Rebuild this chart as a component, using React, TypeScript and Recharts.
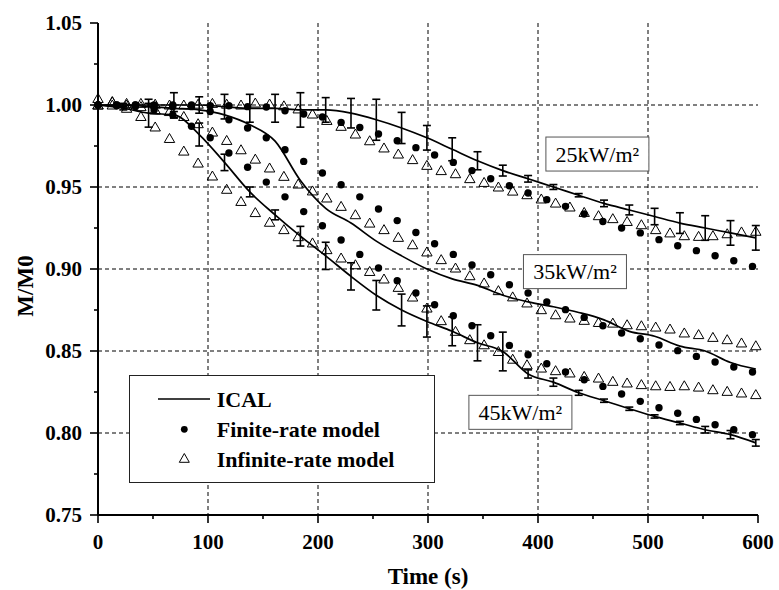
import React from "react";
import {
  ComposedChart,
  Line,
  Scatter,
  XAxis,
  YAxis,
  CartesianGrid,
  ErrorBar,
  ReferenceDot,
  Legend,
  Label,
} from "recharts";

// ICAL measurements (solid line + error bars), one reading every 23 s
const icalTime = [
  0, 23, 46, 69, 92, 115, 138, 161, 184, 207, 230, 253, 276, 299, 322, 345,
  368, 391, 414, 437, 460, 483, 506, 529, 552, 575, 598,
];
const ical25 = [
  1.0, 1.0, 1.0, 1.0, 1.0, 0.999, 0.998, 0.998, 0.997, 0.997, 0.995, 0.991,
  0.986, 0.98, 0.973, 0.966, 0.96, 0.955, 0.95, 0.945, 0.94, 0.936, 0.932,
  0.928, 0.925, 0.922, 0.919,
];
const ical25Err = [
  0, 0.001, 0.001, 0.0075, 0.005, 0.0075, 0.0085, 0.0085, 0.0105, 0.0075,
  0.009, 0.0125, 0.0095, 0.0075, 0.007, 0.0055, 0.0033, 0.002, 0.0015, 0.001,
  0.002, 0.003, 0.005, 0.0063, 0.0075, 0.0075, 0.0075,
];
const ical35 = [
  1.0, 1.0, 0.999, 0.998, 0.997, 0.994, 0.988, 0.978, 0.954, 0.937, 0.928,
  0.917, 0.908, 0.9, 0.894, 0.89, 0.884, 0.88, 0.877, 0.8735, 0.869, 0.862,
  0.859, 0.853, 0.85, 0.843, 0.839,
];
const ical45 = [
  1.0, 0.998, 0.995, 0.994, 0.982, 0.965, 0.947, 0.933, 0.92, 0.908, 0.8955,
  0.884, 0.875, 0.868, 0.862, 0.855, 0.8497, 0.836, 0.831, 0.8245, 0.8197,
  0.8148, 0.8101, 0.8061, 0.802, 0.799, 0.794,
];
const ical45Err = [
  0, 0.001, 0.0085, 0.002, 0.007, 0.005, 0.003, 0.003, 0.006, 0.0083, 0.0083,
  0.009, 0.0097, 0.0095, 0.0088, 0.011, 0.0118, 0.0025, 0.0025, 0.0015, 0.001,
  0.001, 0.001, 0.001, 0.002, 0.0025, 0.002,
];

// Finite-rate model (filled dots), every 17 s
const finiteTime = [
  0, 17, 34, 51, 68, 85, 102, 119, 136, 153, 170, 187, 204, 221, 238, 255, 272,
  289, 306, 323, 340, 357, 374, 391, 408, 425, 442, 459, 476, 493, 510, 527,
  544, 561, 578, 595,
];
const finite25 = [
  1.0, 1.0, 1.0, 1.0, 1.0, 1.0, 0.9995, 0.9995, 0.999, 0.9988, 0.9965, 0.9945,
  0.9927, 0.9894, 0.9863, 0.9823, 0.9782, 0.974, 0.9695, 0.965, 0.96, 0.955,
  0.9508, 0.9463, 0.9423, 0.9382, 0.9335, 0.929, 0.925, 0.922, 0.9179, 0.9142,
  0.9112, 0.9081, 0.905, 0.9016,
];
const finite35 = [
  1.0, 1.0, 1.0, 0.9995, 0.999, 0.999, 0.996, 0.991, 0.986, 0.98, 0.9727,
  0.9656, 0.9585, 0.9514, 0.944, 0.9366, 0.9295, 0.9223, 0.9154, 0.9089,
  0.9024, 0.8965, 0.8904, 0.8854, 0.8799, 0.8752, 0.8705, 0.8654, 0.861,
  0.8575, 0.8537, 0.8502, 0.8467, 0.8433, 0.8402, 0.8372,
];
const finite45 = [
  1.0, 0.9995, 0.999, 0.997, 0.994, 0.987, 0.98, 0.9707, 0.962, 0.953, 0.944,
  0.935, 0.9264, 0.9177, 0.9089, 0.9006, 0.8929, 0.8854, 0.8782, 0.8715,
  0.8654, 0.8593, 0.8534, 0.8477, 0.8422, 0.8372, 0.8325, 0.8284, 0.8238,
  0.8193, 0.8154, 0.812, 0.8083, 0.805, 0.802, 0.799,
];

// Infinite-rate model (open triangles), every 13 s
const infiniteTime = [
  0, 13, 26, 39, 52, 65, 78, 91, 104, 117, 130, 143, 156, 169, 182, 195, 208,
  221, 234, 247, 260, 273, 286, 299, 312, 325, 338, 351, 364, 377, 390, 403,
  416, 429, 442, 455, 468, 481, 494, 507, 520, 533, 546, 559, 572, 585, 598,
];
const infinite25 = [
  1.0, 1.002, 1.001, 1.001, 1.0005, 1.0, 1.0, 1.0005, 1.001, 1.0005, 1.0,
  1.0012, 1.0006, 0.9995, 0.9976, 0.9945, 0.9906, 0.987, 0.9823, 0.9782,
  0.9738, 0.9701, 0.9667, 0.9632, 0.96, 0.9581, 0.9551, 0.9528, 0.95, 0.9475,
  0.9453, 0.9427, 0.9402, 0.9378, 0.9345, 0.9325, 0.9307, 0.929, 0.927, 0.924,
  0.922, 0.9203, 0.9199, 0.9203, 0.9215, 0.9226, 0.923,
];
const infinite35 = [
  1.0, 1.0, 1.0, 0.999, 0.997, 0.996, 0.993, 0.9886, 0.9835, 0.9784, 0.9727,
  0.967, 0.9616, 0.9565, 0.9518, 0.9476, 0.9433, 0.9382, 0.9331, 0.928, 0.924,
  0.9193, 0.9148, 0.9104, 0.9057, 0.9006, 0.8959, 0.8915, 0.8868, 0.883,
  0.8793, 0.8752, 0.8721, 0.8701, 0.8687, 0.8674, 0.867, 0.866, 0.8654,
  0.8646, 0.8634, 0.861, 0.86, 0.8583, 0.8569, 0.8549, 0.8532,
];
const infinite45 = [
  1.004, 1.002, 0.998, 0.993, 0.9866, 0.9796, 0.9719, 0.9646, 0.9567, 0.9486,
  0.9412, 0.9344, 0.9285, 0.924, 0.9197, 0.9159, 0.9118, 0.9067, 0.9026,
  0.8985, 0.8939, 0.8888, 0.8829, 0.8762, 0.8685, 0.862, 0.8569, 0.8538,
  0.8497, 0.845, 0.8416, 0.8396, 0.838, 0.8366, 0.8345, 0.8335, 0.8315,
  0.8305, 0.8295, 0.8288, 0.8284, 0.8288, 0.828, 0.8264, 0.8254, 0.8244,
  0.8234,
];

const xTicks = [0, 50, 100, 150, 200, 250, 300, 350, 400, 450, 500, 550, 600];
const xLabels = [0, 100, 200, 300, 400, 500, 600];
const yTicks = [
  0.75, 0.775, 0.8, 0.825, 0.85, 0.875, 0.9, 0.925, 0.95, 0.975, 1.0, 1.025,
  1.05,
];
const yLabels = [0.75, 0.8, 0.85, 0.9, 0.95, 1.0, 1.05];
const gridX = [100, 200, 300, 400, 500];
const gridY = [0.8, 0.85, 0.9, 0.95, 1.0];

const legendNames = ["ICAL", "Finite-rate model", "Infinite-rate model"];

// heat flux tags, anchored at the box centre in data units
const fluxTags = [
  { text: "25kW/m²", t: 454, v: 0.9701 },
  { text: "35kW/m²", t: 433.6, v: 0.8984 },
  { text: "45kW/m²", t: 384, v: 0.8126 },
];

const font = '"Liberation Serif", "Times New Roman", serif';

const rows = (ts: number[], vs: number[], es?: number[]) =>
  ts.map((t, i) => ({ t, v: vs[i], e: es ? es[i] : 0 }));

const DotShape = (p: any) => <circle cx={p.cx} cy={p.cy} r={3.7} fill="#000" />;

const TriShape = (p: any) => (
  <polygon
    points={`${p.cx},${p.cy - 5} ${p.cx - 5.2},${p.cy + 4} ${p.cx + 5.2},${p.cy + 4}`}
    fill="none"
    stroke="#000"
    strokeWidth={1}
  />
);

const XTick = (props: any) => {
  const { x, y, payload } = props;
  const major = xLabels.includes(payload.value);
  return (
    <g>
      <line x1={x} y1={y} x2={x} y2={y + (major ? 8 : 4)} stroke="#000" strokeWidth={1.6} />
      {major && (
        <text x={x} y={y + 34} textAnchor="middle" fontFamily={font} fontWeight="bold" fontSize={21} fill="#000">
          {payload.value}
        </text>
      )}
    </g>
  );
};

const YTick = (props: any) => {
  const { x, y, payload } = props;
  const major = yLabels.some((v) => Math.abs(v - payload.value) < 1e-6);
  return (
    <g>
      <line x1={x - (major ? 8 : 4)} y1={y} x2={x} y2={y} stroke="#000" strokeWidth={1.6} />
      {major && (
        <text x={x - 16} y={y + 7} textAnchor="end" fontFamily={font} fontWeight="bold" fontSize={21} fill="#000">
          {payload.value.toFixed(2)}
        </text>
      )}
    </g>
  );
};

const FluxBox = ({ cx, cy, text }: { cx: number; cy: number; text: string }) => (
  <g>
    <rect x={cx - 51.5} y={cy - 17} width={103} height={34} fill="#fff" stroke="#555" strokeWidth={1} />
    <text x={cx} y={cy + 7.5} textAnchor="middle" fontFamily={font} fontSize={22} fill="#000">
      {text}
    </text>
  </g>
);

const LegendBox = () => (
  <svg width={307} height={109} style={{ display: "block" }}>
    <rect x={0.5} y={0.5} width={305} height={107} fill="#fff" stroke="#222" strokeWidth={1} />
    <line x1={29} y1={24} x2={81} y2={24} stroke="#000" strokeWidth={1.7} />
    <circle cx={55.3} cy={54.3} r={3.4} fill="#000" />
    <polygon points="55.3,78.5 50.3,87.3 60.3,87.3" fill="none" stroke="#000" strokeWidth={1} />
    {legendNames.map((name, i) => (
      <text key={name} x={87.7} y={31.7 + i * 30.3} fontFamily={font} fontWeight="bold" fontSize={22} fill="#000">
        {name}
      </text>
    ))}
  </svg>
);

export default function App() {
  return (
    <div style={{ position: "absolute", left: 0, top: 0 }}>
      <ComposedChart width={779} height={590} margin={{ top: 23, right: 21, bottom: 0, left: 0 }}>
        <CartesianGrid
          horizontalValues={gridY}
          verticalValues={gridX}
          stroke="#000"
          strokeDasharray="4 3"
          strokeWidth={1}
        />
        <XAxis
          type="number"
          dataKey="t"
          domain={[0, 600]}
          ticks={xTicks}
          interval={0}
          height={75}
          tickSize={0}
          tickMargin={0}
          tickLine={false}
          tick={XTick}
          axisLine={{ stroke: "#000", strokeWidth: 2 }}
        >
          <Label
            content={(p: any) => {
              const vb = p.viewBox;
              return (
                <text x={vb.x + vb.width / 2} y={vb.y + 69} textAnchor="middle" fontFamily={font} fontWeight="bold" fontSize={23} fill="#000">
                  Time (s)
                </text>
              );
            }}
          />
        </XAxis>
        <XAxis xAxisId="top" orientation="top" type="number" domain={[0, 600]} height={0} tick={false} tickLine={false} axisLine={{ stroke: "#000", strokeWidth: 1 }} />
        <YAxis
          type="number"
          domain={[0.75, 1.05]}
          ticks={yTicks}
          interval={0}
          width={98}
          tickSize={0}
          tickMargin={0}
          tickLine={false}
          tick={YTick}
          axisLine={{ stroke: "#000", strokeWidth: 2 }}
        >
          <Label
            content={(p: any) => {
              const vb = p.viewBox;
              const cy = vb.y + vb.height / 2 + 17;
              return (
                <text x={33} y={cy} transform={`rotate(-90 33 ${cy})`} textAnchor="middle" fontFamily={font} fontWeight="bold" fontSize={23} fill="#000">
                  M/M0
                </text>
              );
            }}
          />
        </YAxis>
        <YAxis yAxisId="right" orientation="right" type="number" domain={[0.75, 1.05]} width={0} tick={false} tickLine={false} axisLine={{ stroke: "#000", strokeWidth: 1 }} />

        <Scatter data={rows(infiniteTime, infinite25)} dataKey="v" shape={TriShape} isAnimationActive={false} />
        <Scatter data={rows(infiniteTime, infinite35)} dataKey="v" shape={TriShape} isAnimationActive={false} />
        <Scatter data={rows(infiniteTime, infinite45)} dataKey="v" shape={TriShape} isAnimationActive={false} />
        <Scatter data={rows(finiteTime, finite25)} dataKey="v" shape={DotShape} isAnimationActive={false} />
        <Scatter data={rows(finiteTime, finite35)} dataKey="v" shape={DotShape} isAnimationActive={false} />
        <Scatter data={rows(finiteTime, finite45)} dataKey="v" shape={DotShape} isAnimationActive={false} />

        <Line data={rows(icalTime, ical25, ical25Err)} dataKey="v" type="monotone" stroke="#000" strokeWidth={1.7} dot={false} activeDot={false} isAnimationActive={false}>
          <ErrorBar dataKey="e" direction="y" width={4} stroke="#000" strokeWidth={1.6} />
        </Line>
        <Line data={rows(icalTime, ical35)} dataKey="v" type="monotone" stroke="#000" strokeWidth={1.7} dot={false} activeDot={false} isAnimationActive={false} />
        <Line data={rows(icalTime, ical45, ical45Err)} dataKey="v" type="monotone" stroke="#000" strokeWidth={1.7} dot={false} activeDot={false} isAnimationActive={false}>
          <ErrorBar dataKey="e" direction="y" width={4} stroke="#000" strokeWidth={1.6} />
        </Line>

        {fluxTags.map((f) => (
          <ReferenceDot
            key={f.text}
            x={f.t}
            y={f.v}
            r={0}
            shape={(p: any) => <FluxBox cx={p.cx} cy={p.cy} text={f.text} />}
          />
        ))}

        <Legend
          layout="vertical"
          align="center"
          verticalAlign="middle"
          content={() => <LegendBox />}
          wrapperStyle={{ left: 129, top: 375, width: 307, height: 109 }}
        />
      </ComposedChart>
    </div>
  );
}
